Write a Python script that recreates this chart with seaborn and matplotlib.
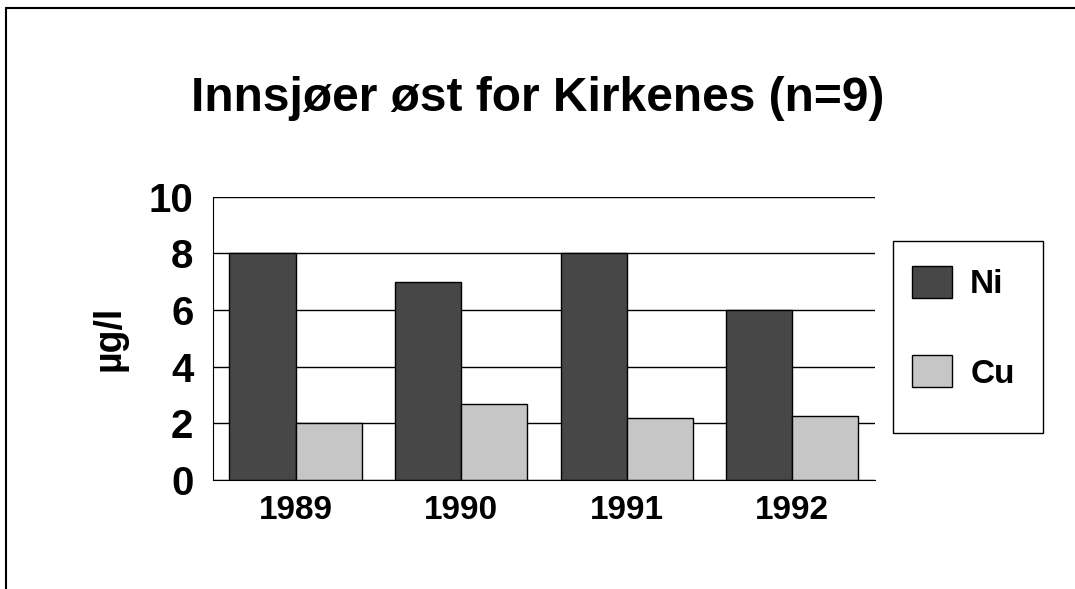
import numpy as np
import pandas as pd
import matplotlib
matplotlib.use("Agg")
import matplotlib.pyplot as plt
from matplotlib.lines import Line2D
from matplotlib.patches import Rectangle
import seaborn as sns

# data
years = ["1989", "1990", "1991", "1992"]
ni = [8.0, 7.0, 8.0, 6.0]
cu = [2.0, 2.7, 2.2, 2.25]

df = pd.DataFrame({
    "year": years * 2,
    "value": ni + cu,
    "metal": ["Ni"] * 4 + ["Cu"] * 4,
})

sns.set_style("white")
plt.rcParams["font.family"] = ["Liberation Sans", "DejaVu Sans"]
plt.rcParams["text.color"] = "black"
plt.rcParams["xtick.color"] = "black"
plt.rcParams["ytick.color"] = "black"
plt.rcParams["axes.labelcolor"] = "black"

ni_col, cu_col = "#474747", "#c6c6c6"

fig = plt.figure(figsize=(10.75, 5.89), dpi=100)
ax = fig.add_axes([0.198, 0.185, 0.616, 0.481])

sns.barplot(data=df, x="year", y="value", hue="metal",
            palette={"Ni": ni_col, "Cu": cu_col},
            edgecolor="black", linewidth=1.0, width=0.8,
            saturation=1, ax=ax, legend=True)

ax.set_ylim(0, 10)
ax.set_xlim(-0.5, 3.5)
ax.set_yticks([0, 2, 4, 6, 8, 10])
ax.yaxis.grid(True, color="black", linewidth=1.0)
ax.set_axisbelow(True)
for s in ["top", "right"]:
    ax.spines[s].set_visible(False)
ax.spines["left"].set_color("black")
ax.spines["bottom"].set_color("black")

ax.tick_params(axis="y", direction="inout", length=8, width=1, labelsize=29, pad=10)
ax.tick_params(axis="x", which="major", length=0, labelsize=24, pad=11)
ax.set_xticks([-0.5, 0.5, 1.5, 2.5, 3.5], minor=True)
ax.tick_params(axis="x", which="minor", direction="inout", length=10, width=1)
for lab in ax.get_yticklabels() + ax.get_xticklabels():
    lab.set_fontweight("bold")

ax.set_xlabel("")
ax.set_ylabel("µg/l", fontsize=27, fontweight="bold", labelpad=15)

ax.legend_.remove()
handles = [plt.Rectangle((0, 0), 1, 1, facecolor=ni_col, edgecolor="black"),
           plt.Rectangle((0, 0), 1, 1, facecolor=cu_col, edgecolor="black")]
leg = fig.legend(handles, ["Ni", "Cu"], loc="upper left",
                 bbox_to_anchor=(0.825, 0.591), frameon=False,
                 prop={"size": 24, "weight": "bold"}, handlelength=1.2,
                 handleheight=1.1, labelspacing=1.65, borderpad=0.75,
                 handletextpad=0.55, borderaxespad=0)
# legend box drawn separately
fig.add_artist(Rectangle((893 / 1075, 1 - 433 / 589), 150 / 1075, 192 / 589,
                         transform=fig.transFigure, fill=False,
                         edgecolor="black", linewidth=1.0))

fig.text(0.5, 0.833, "Innsjøer øst for Kirkenes (n=9)", ha="center", va="center",
         fontsize=34.5, fontweight="bold")

# outer frame (top and left edges visible)
fig.add_artist(Line2D([0.006, 1.0], [0.986, 0.986], color="black", lw=1.5,
                      transform=fig.transFigure))
fig.add_artist(Line2D([0.006, 0.006], [0.0, 0.986], color="black", lw=1.5,
                      transform=fig.transFigure))

fig.savefig("out.png", dpi=100)
